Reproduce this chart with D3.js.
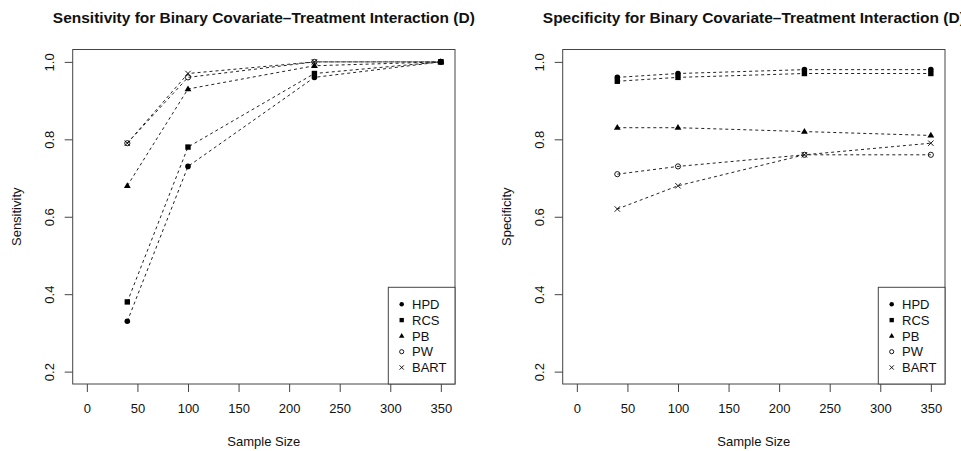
<!DOCTYPE html>
<html><head><meta charset="utf-8">
<script src="https://cdn.jsdelivr.net/npm/d3@7"></script>
<style>body{margin:0;background:#fff;} svg{display:block;} text{font-family:"Liberation Sans",Arial,Helvetica,sans-serif;fill:#111;}</style>
</head><body>
<script>
const sampleSizes = [40, 100, 225, 350];
const methods = ["HPD", "RCS", "PB", "PW", "BART"];
const symbolsOf = ["dot", "square", "triangle", "ring", "cross"];
const sensHPD  = [0.33, 0.73, 0.96, 1.00];
const sensRCS  = [0.38, 0.78, 0.97, 1.00];
const sensPB   = [0.68, 0.93, 0.99, 1.00];
const sensPW   = [0.79, 0.96, 1.00, 1.00];
const sensBART = [0.79, 0.97, 1.00, 1.00];
const specHPD  = [0.96, 0.97, 0.98, 0.98];
const specRCS  = [0.95, 0.96, 0.97, 0.97];
const specPB   = [0.83, 0.83, 0.82, 0.81];
const specPW   = [0.71, 0.73, 0.76, 0.76];
const specBART = [0.62, 0.68, 0.76, 0.79];
const xTicks = [0, 50, 100, 150, 200, 250, 300, 350];
const yTicks = [0.2, 0.4, 0.6, 0.8, 1.0];

(function () {
const panels = [
  {title: "Sensitivity for Binary Covariate\u2013Treatment Interaction (D)", ylab: "Sensitivity",
   series: [sensHPD, sensRCS, sensPB, sensPW, sensBART], left: 72.7},
  {title: "Specificity for Binary Covariate\u2013Treatment Interaction (D)", ylab: "Specificity",
   series: [specHPD, specRCS, specPB, specPW, specBART], left: 562.7}
];

const W = 961, H = 451;
const svg = d3.select("body").append("svg").attr("width", W).attr("height", H);
svg.append("rect").attr("width", W).attr("height", H).attr("fill", "#fff");

const pw = 382.3, plotTop = 49.5, plotBottom = 384;
const fs = 13;

function drawSymbol(g, type, cx, cy, s) {
  if (type === "dot") g.append("circle").attr("cx", cx).attr("cy", cy).attr("r", 2.8 * s).attr("fill", "#000");
  else if (type === "square") g.append("rect").attr("x", cx - 2.7 * s).attr("y", cy - 2.7 * s).attr("width", 5.4 * s).attr("height", 5.4 * s).attr("fill", "#000");
  else if (type === "triangle") {
    const r = 3.6 * s;
    g.append("path").attr("d", `M${cx},${cy - r}L${cx + r * 0.95},${cy + r * 0.6}L${cx - r * 0.95},${cy + r * 0.6}Z`).attr("fill", "#000");
  } else if (type === "ring") g.append("circle").attr("cx", cx).attr("cy", cy).attr("r", 2.6 * s).attr("fill", "none").attr("stroke", "#000").attr("stroke-width", 0.9);
  else if (type === "cross") {
    const r = 2.7 * s;
    g.append("path").attr("d", `M${cx - r},${cy - r}L${cx + r},${cy + r}M${cx - r},${cy + r}L${cx + r},${cy - r}`).attr("stroke", "#000").attr("stroke-width", 0.9).attr("fill", "none");
  }
}

panels.forEach(p => {
  const x = d3.scaleLinear().domain([-14, 364]).range([p.left, p.left + pw]);
  const y = d3.scaleLinear().domain([0.168, 1.032]).range([plotBottom, plotTop]);
  const g = svg.append("g");

  g.append("text").attr("x", p.left + pw / 2).attr("y", 22.5).attr("text-anchor", "middle")
    .style("font-weight", "bold").style("font-size", "15.5px").text(p.title);

  const xa = g.append("g").attr("transform", `translate(0,${plotBottom})`)
    .call(d3.axisBottom(x).tickValues(xTicks).tickFormat(d3.format("d")).tickSize(8).tickPadding(12));
  xa.select(".domain").remove();
  xa.selectAll("line").attr("stroke", "#444");
  xa.selectAll("text").style("font-size", fs + "px").attr("fill", "#111");

  const ya = g.append("g").attr("transform", `translate(${p.left},0)`)
    .call(d3.axisLeft(y).tickValues(yTicks).tickFormat(d3.format(".1f")).tickSize(8));
  ya.select(".domain").remove();
  ya.selectAll("line").attr("stroke", "#444");
  ya.selectAll("text").attr("x", null).attr("dy", "0.35em").attr("text-anchor", "middle")
    .attr("transform", "translate(-23.4,0) rotate(-90)").style("font-size", fs + "px").attr("fill", "#111");

  g.append("rect").attr("x", p.left).attr("y", plotTop).attr("width", pw).attr("height", plotBottom - plotTop)
    .attr("fill", "none").attr("stroke", "#444").attr("stroke-width", 1);

  g.append("text").attr("x", p.left + pw / 2).attr("y", 445.5).attr("text-anchor", "middle").style("font-size", fs + "px").text("Sample Size");
  g.append("text").attr("transform", `translate(${p.left - 52.2},${(plotTop + plotBottom) / 2}) rotate(-90)`)
    .attr("text-anchor", "middle").style("font-size", fs + "px").text(p.ylab);

  const line = d3.line().x((d, i) => x(sampleSizes[i])).y(d => y(d));
  p.series.forEach((vals) => {
    g.append("path").attr("d", line(vals)).attr("fill", "none").attr("stroke", "#222")
      .attr("stroke-width", 1).attr("stroke-dasharray", "3,3");
  });
  p.series.forEach((vals, k) => {
    vals.forEach((v, i) => drawSymbol(g, symbolsOf[k], x(sampleSizes[i]), y(v), 1));
  });

  const lx = p.left + pw - 66.7, ly = 287.3;
  g.append("rect").attr("x", lx).attr("y", ly).attr("width", 66.7).attr("height", plotBottom - ly)
    .attr("fill", "#fff").attr("stroke", "#444").attr("stroke-width", 1);
  methods.forEach((m, k) => {
    const cy = ly + 17 + k * 15.8;
    drawSymbol(g, symbolsOf[k], lx + 13.4, cy, 0.8);
    g.append("text").attr("x", lx + 23.7).attr("y", cy).attr("dy", "0.36em").style("font-size", fs + "px").text(m);
  });
});
})();
</script>
</body></html>
